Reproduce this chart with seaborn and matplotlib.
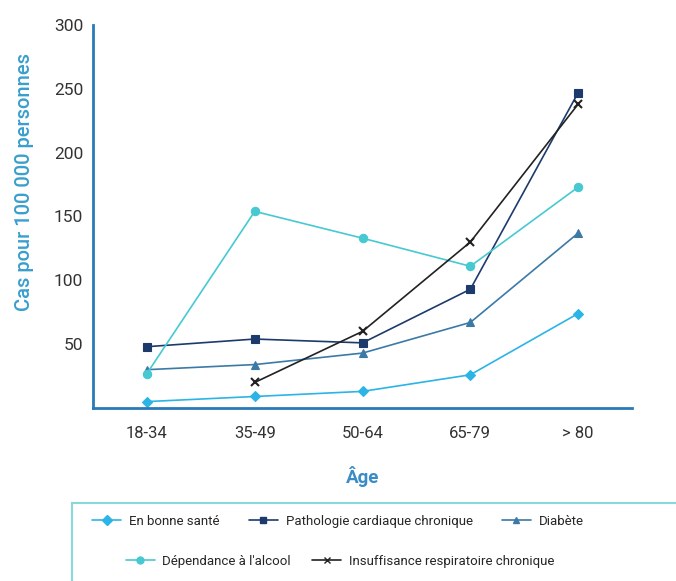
import pandas as pd
import numpy as np
import matplotlib.pyplot as plt
from matplotlib.lines import Line2D
from matplotlib.patches import Rectangle
import seaborn as sns

sns.set_style("white")
plt.rcParams['font.family'] = ['Roboto', 'DejaVu Sans']

# données
ages = ['18-34', '35-49', '50-64', '65-79', '> 80']
en_bonne_sante = [5, 9, 13, 26, 74]
patho_cardiaque = [48, 54, 51, 93, 247]
diabete = [30, 34, 43, 67, 137]
alcool = [27, 154, 133, 111, 173]
insuff_resp = [np.nan, 20, 60, 130, 238]

series = ['En bonne santé', 'Pathologie cardiaque chronique', 'Diabète',
          "Dépendance à l'alcool", 'Insuffisance respiratoire chronique']
valeurs = [en_bonne_sante, patho_cardiaque, diabete, alcool, insuff_resp]

couleurs = {series[0]: '#2bb4e6', series[1]: '#1c3b6c', series[2]: '#3b7aa6',
            series[3]: '#47c9d1', series[4]: '#222222'}
marqueurs = {series[0]: 'D', series[1]: 's', series[2]: '^',
             series[3]: 'o', series[4]: 'x'}

df = pd.DataFrame({
    'age': ages * len(series),
    'cas': [v for vals in valeurs for v in vals],
    'serie': [s for s in series for _ in ages],
})
df['x'] = df['age'].map({a: i for i, a in enumerate(ages)})

fig = plt.figure(figsize=(6.76, 5.81), dpi=100)
ax = fig.add_axes([0.1376, 0.2978, 0.7974, 0.6592])

for s in series:
    sub = df[df['serie'] == s].dropna()
    m = marqueurs[s]
    ms = 5 if m == 'D' else 6
    sns.lineplot(data=sub, x='x', y='cas', ax=ax, color=couleurs[s],
                 marker=m, markersize=ms, markeredgecolor=couleurs[s],
                 markeredgewidth=1.5 if m == 'x' else 0.8, linewidth=1.2,
                 legend=False, sort=False)

ax.set_xlim(-0.5, 4.5)
ax.set_ylim(0, 300)
ax.set_xticks(range(len(ages)))
ax.set_xticklabels(ages)
ax.set_xticks(np.arange(0.5, 5, 1), minor=True)
ax.set_yticks([50, 100, 150, 200, 250, 300])

bleu_axe = '#2a7ab8'
for side in ['top', 'right']:
    ax.spines[side].set_visible(False)
for side in ['left', 'bottom']:
    ax.spines[side].set_color(bleu_axe)
    ax.spines[side].set_linewidth(2)

ax.tick_params(axis='x', which='major', length=0, pad=13, labelsize=12, labelcolor='#333333')
ax.tick_params(axis='x', which='minor', direction='in', length=6, width=1.5, color=bleu_axe)
ax.tick_params(axis='y', which='major', direction='out', length=5, width=2, color=bleu_axe,
               labelsize=12.5, labelcolor='#333333', pad=2)

ax.set_xlabel('Âge', fontsize=13.5, fontweight='bold', color='#3a8cc6', labelpad=18)
ax.set_ylabel('Cas pour 100 000 personnes', fontsize=14.5, fontweight='medium',
              color='#3a9fcd')
ax.yaxis.set_label_coords(-0.11, 0.59)

# légende dans un cadre turquoise
cadre = Rectangle((72 / 676, -0.02), 0.95, 0.154, transform=fig.transFigure,
                  fill=False, edgecolor='#8ad9d9', linewidth=1.5, clip_on=False)
fig.patches.append(cadre)


def poignee(s):
    return Line2D([], [], color=couleurs[s], marker=marqueurs[s], markersize=5,
                  markeredgecolor=couleurs[s], linewidth=1.2)


leg1 = fig.legend([poignee(s) for s in series[:3]], series[:3], ncol=3,
                  loc='center', bbox_to_anchor=(0.5, 0.103), frameon=False,
                  fontsize=9.5, handlelength=2.2, columnspacing=2.2, handletextpad=0.6)
leg2 = fig.legend([poignee(s) for s in series[3:]], series[3:], ncol=2,
                  loc='center', bbox_to_anchor=(0.503, 0.034), frameon=False,
                  fontsize=9.5, handlelength=2.2, columnspacing=1.6, handletextpad=0.6)

fig.savefig('out.png', dpi=100)
